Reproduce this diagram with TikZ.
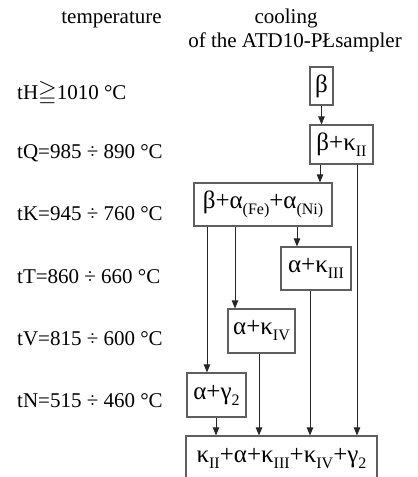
\documentclass[tikz,border=0pt]{standalone}
\usepackage{fontspec}
\usepackage{amssymb}
\setmainfont{Liberation Serif}
\newfontfamily\gkfont{Liberation Serif}
\usetikzlibrary{arrows.meta}
\definecolor{boxgray}{RGB}{95,95,95}
\newcommand{\gkb}{{\gkfont β}}
\newcommand{\gka}{{\gkfont α}}
\newcommand{\gkk}{{\gkfont κ}}
\newcommand{\gkg}{{\gkfont γ}}
\newcommand{\lowidx}[1]{\raisebox{-6pt}{\fontsize{16}{16}\selectfont #1}}
\begin{document}
\begin{tikzpicture}[x=1pt,y=-1pt,
  lbl/.style={anchor=base west, inner sep=0pt, font=\fontsize{21}{21}\selectfont},
  hdr/.style={anchor=base, inner sep=0pt, font=\fontsize{21}{21}\selectfont},
  box/.style={draw=boxgray, line width=1.2pt, inner sep=0pt, anchor=center, font=\fontsize{25}{25}\selectfont},
  conn/.style={draw=black!85, line width=0.9pt, -{Triangle[length=8pt,width=6.5pt]}}]
\useasboundingbox (0,0) rectangle (418,477);
% headers
\node[hdr] (h1) at (111.5,23) {temperature};
\node[hdr] (h2) at (286,23) {cooling};
\node[hdr] (h3) at (295,47) {of the ATD10-PŁsampler};
% temperature labels
\node[lbl] (tH) at (17,99.5) {tH{\fontsize{24}{24}\selectfont$\geqq$}1010 °C};
\node[lbl] (tQ) at (17,158) {tQ=985 ÷ 890 °C};
\node[lbl] (tK) at (17,220) {tK=945 ÷ 760 °C};
\node[lbl] (tT) at (17,283) {tT=860 ÷ 660 °C};
\node[lbl] (tV) at (17,345) {tV=815 ÷ 600 °C};
\node[lbl] (tN) at (17,407) {tN=515 ÷ 460 °C};
% boxes
\node[box, minimum width=23pt, minimum height=38pt] (b) at (321.5,86) {\gkb};
\node[box, minimum width=63pt, minimum height=39pt] (bk) at (341.5,144.5) {\gkb+\gkk\lowidx{II}};
\node[box, minimum width=138pt, minimum height=43pt] (ba) at (263,204.5) {\gkb+\gka\lowidx{(Fe)}+\gka\lowidx{(Ni)}};
\node[box, minimum width=70pt, minimum height=43pt] (k3) at (316,268.5) {\gka+\gkk\lowidx{III}};
\node[box, minimum width=67pt, minimum height=44pt] (k4) at (261.5,331) {\gka+\gkk\lowidx{IV}};
\node[box, minimum width=59pt, minimum height=44pt] (ag) at (216.5,395) {\gka+\gkg\lowidx{2}};
\node[box, minimum width=191pt, minimum height=46pt] (fin) at (281.5,459) {\gkk\lowidx{II}+\gka+\gkk\lowidx{III}+\gkk\lowidx{IV}+\gkg\lowidx{2}};
% connectors
\draw[conn] (b.south) -- (b.south |- bk.north);
\draw[conn] ([xshift=-21.5pt]bk.south) -- ([xshift=-21.5pt]bk.south |- ba.north);
\draw[conn] ([xshift=15.5pt]bk.south) -- ([xshift=15.5pt]bk.south |- fin.north);
\draw[conn] ([xshift=34pt]ba.south) -- ([xshift=34pt]ba.south |- k3.north);
\draw[conn] ([xshift=-28pt]ba.south) -- ([xshift=-28pt]ba.south |- k4.north);
\draw[conn] ([xshift=-56pt]ba.south) -- ([xshift=-56pt]ba.south |- ag.north);
\draw[conn] ([xshift=-6pt]k3.south) -- ([xshift=-6pt]k3.south |- fin.north);
\draw[conn] ([xshift=-2.5pt]k4.south) -- ([xshift=-2.5pt]k4.south |- fin.north);
\draw[conn] ([xshift=-0.5pt]ag.south) -- ([xshift=-0.5pt]ag.south |- fin.north);
\end{tikzpicture}
\end{document}
